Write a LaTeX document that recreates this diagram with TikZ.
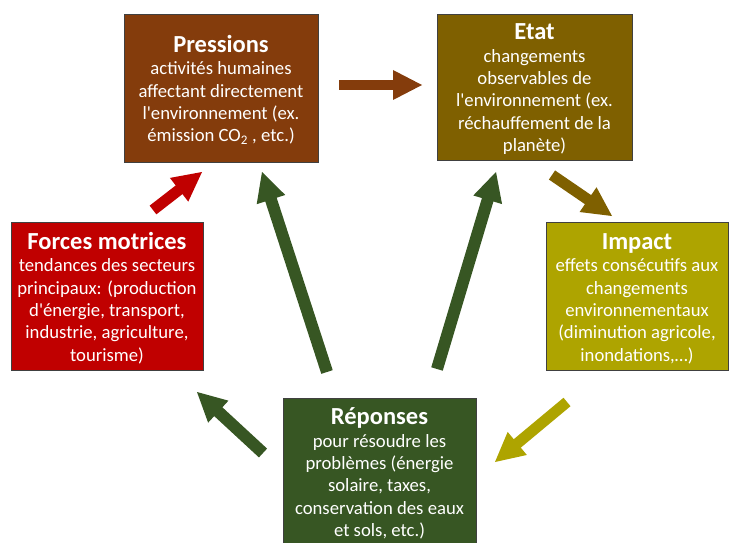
\documentclass[tikz,border=0pt]{standalone}
\usepackage{fontspec}
\setmainfont{Carlito}[Ligatures=TeXOff]
\usetikzlibrary{calc}
\definecolor{cpress}{HTML}{843C0C}
\definecolor{cetat}{HTML}{7F6000}
\definecolor{cforce}{HTML}{C00000}
\definecolor{cimpact}{HTML}{AEA400}
\definecolor{crep}{HTML}{375623}
\newcommand\blockarrow[4]{% color, tail, tip, shaft width
  \path ($(#3)!29pt!(#2)$) coordinate (#3b);
  \draw[line width=#4,#1] (#2) -- ($(#3)!27pt!(#2)$);
  \fill[#1] (#3) -- ($(#3b)!15pt!90:(#3)$) -- ($(#3b)!15pt!-90:(#3)$) -- cycle;}
\tikzset{
  box/.style={draw=black!75, line width=0.8pt, inner sep=0pt, minimum width=#1},
  boxtext/.style={text=white, align=center, inner sep=0pt, anchor=north,
    font=\fontsize{18.7}{22.4}\selectfont},
}
\newcommand\ttl[1]{\rule{0pt}{17pt}{\fontsize{24.5}{22.4}\selectfont\bfseries #1}}
\begin{document}
\begin{tikzpicture}[x=1pt,y=-1pt]
\useasboundingbox (0,0) rectangle (729,543);
% boxes
\node[box=194pt, minimum height=148pt, fill=cpress] (pre) at (221,88) {};
\node[box=195pt, minimum height=146pt, fill=cetat] (eta) at (534.5,87) {};
\node[box=192pt, minimum height=148pt, fill=cforce] (for) at (107,296) {};
\node[box=182pt, minimum height=148pt, fill=cimpact] (imp) at (637,296) {};
\node[box=193pt, minimum height=146pt, fill=crep] (rep) at (379.5,471) {};
% texts
\node[boxtext] (pret) at (221,35) {\ttl{Pressions}\\activités humaines\\affectant directement\\l'environnement (ex.\\émission CO\textsubscript{2} , etc.)};
\node[boxtext] (etat) at (534.5,22.5) {\ttl{Etat}\\changements\\observables de\\l'environnement (ex.\\réchauffement de la\\planète)};
\node[boxtext] (fort) at (107,232) {\ttl{Forces motrices}\\tendances des secteurs\\principaux: (production\\d'énergie, transport,\\industrie, agriculture,\\tourisme)};
\node[boxtext] (impt) at (637,232) {\ttl{Impact}\\effets consécutifs aux\\changements\\environnementaux\\(diminution agricole,\\inondations,…)};
\node[boxtext] (rept) at (379.5,407.5) {\ttl{Réponses}\\pour résoudre les\\problèmes (énergie\\solaire, taxes,\\conservation des eaux\\et sols, etc.)};
% arrow end points
\coordinate (a1t) at (339,85);  \coordinate (a1h) at (422,85);
\coordinate (a2t) at (153,210); \coordinate (a2h) at (202,172);
\coordinate (a3t) at (552,175); \coordinate (a3h) at (612,216);
\coordinate (a4t) at (567,402); \coordinate (a4h) at (495,462);
\coordinate (a5t) at (263,453); \coordinate (a5h) at (197,392);
\coordinate (a6t) at (327,372); \coordinate (a6h) at (262,172);
\coordinate (a7t) at (437,369); \coordinate (a7h) at (496,172);
% arrows
\blockarrow{cpress}{a1t}{a1h}{10pt}
\blockarrow{cforce}{a2t}{a2h}{11pt}
\blockarrow{cetat}{a3t}{a3h}{11pt}
\blockarrow{cimpact}{a4t}{a4h}{11pt}
\blockarrow{crep}{a5t}{a5h}{12pt}
\blockarrow{crep}{a6t}{a6h}{12pt}
\blockarrow{crep}{a7t}{a7h}{12pt}
\end{tikzpicture}
\end{document}
